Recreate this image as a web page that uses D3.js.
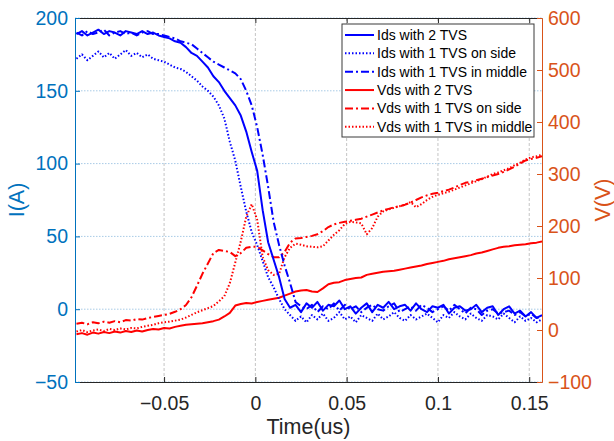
<!DOCTYPE html>
<html>
<head>
<meta charset="utf-8">
<script src="https://cdn.jsdelivr.net/npm/d3@7/dist/d3.min.js"></script>
<style>
body { margin: 0; background: #fff; }
svg { font-family: "Liberation Sans", Arial, Helvetica, sans-serif; }
</style>
</head>
<body>
<div id="chart"></div>
<script>
// sample times (us)
var time = [
	-0.098,-0.095,-0.092,-0.089,-0.086,-0.083,-0.080,-0.077,-0.074,-0.071,
	-0.068,-0.065,-0.062,-0.059,-0.056,-0.053,-0.050,-0.047,-0.044,-0.041,
	-0.038,-0.035,-0.032,-0.029,-0.026,-0.023,-0.020,-0.017,-0.014,-0.011,
	-0.008,-0.005,-0.002,0.001,0.004,0.007,0.010,0.013,0.016,0.019,
	0.022,0.025,0.028,0.031,0.034,0.037,0.040,0.043,0.046,0.049,
	0.052,0.055,0.058,0.061,0.064,0.067,0.070,0.073,0.076,0.079,
	0.082,0.085,0.088,0.091,0.094,0.097,0.100,0.103,0.106,0.109,
	0.112,0.115,0.118,0.121,0.124,0.127,0.130,0.133,0.136,0.139,
	0.142,0.145,0.148,0.151,0.154,0.157];

// current (A)
var idsTwo = [
	189,191,188,190,192,189,191,190,188,191,190,189,191,
	189,190,188,187,186,184,183,180,
	176,174,170,166,160,156,150,145,140,133,122,108,95,68,46,34,22,7,1,3,
	-2,4,1,5,-1,3,2,6,0,2,-3,1,4,-2,3,1,5,0,2,3,-1,4,0,-2,2,1,3,-3,1,2,
	-1,0,3,-2,1,2,-4,0,2,-3,-1,-5,-2,-6,-4];
var idsSide = [
	172,175,171,174,177,173,176,172,175,178,174,176,173,
	175,172,171,170,168,166,165,163,160,157,153,150,146,140,131,115,102,84,67,53,
	44,33,22,15,7,0,-4,-8,
	-5,-9,-4,-7,-3,-8,-6,-2,-7,-5,-9,-4,-6,-8,-3,-7,-5,-2,-6,-8,-4,-7,-5,-3,-6,
	-9,-4,-6,-2,-5,-7,-3,-6,-8,-4,-5,-7,-3,-6,-9,-5,-8,-6,-9,-7];
var idsMid = [
	190,188,191,189,190,192,188,190,191,189,190,188,190,
	191,189,189,188,187,186,184,183,182,179,176,173,170,168,166,164,162,158,150,140,
	125,106,84,60,44,30,18,5,2,
	0,3,-2,2,0,4,-1,3,0,2,-2,1,3,0,-1,2,4,-2,0,2,-1,3,1,-2,0,2,-1,3,0,-3,
	1,0,-4,-1,0,-3,-2,-1,-4,-2,-5,-3,-6,-5];

// voltage (V)
var vdsTwo = [
	-8,-6,-9,-5,-7,-4,-6,-3,-5,-2,-4,-1,-3,
	0,2,1,4,3,6,8,10,11,12,13,15,17,20,26,33,47,50,
	52,51,54,56,58,60,62,66,70,74,76,77,74,73,80,88,91,92,96,98,100,101,106,108,110,112,113,114,116,
	118,120,122,124,127,129,131,133,136,138,140,142,144,147,149,152,155,158,160,161,163,164,165,167,168,170];
var vdsSide = [
	12,14,11,15,13,16,14,17,15,19,18,21,20,
	23,25,27,29,31,35,40,48,63,85,108,128,148,154,152,150,142,148,158,160,160,153,146,140,140,150,168,176,
	177,179,181,184,190,198,203,206,208,210,212,214,218,222,226,230,233,236,238,241,245,250,255,259,262,
	264,267,270,274,279,283,285,288,291,294,297,300,304,309,314,320,326,329,331,334];
var vdsMid = [
	-3,0,-4,-1,1,-2,2,0,3,1,4,3,6,
	8,10,13,15,16,18,20,24,29,34,38,42,46,55,65,90,130,170,218,242,212,140,115,106,108,140,158,166,
	164,161,160,159,161,172,183,192,204,208,207,205,184,196,218,228,232,235,238,241,246,236,242,250,256,
	260,263,266,270,274,278,282,286,290,295,300,303,307,311,317,322,328,332,334,337];

var xTicks = [-0.05, 0, 0.05, 0.1, 0.15];
var iTicks = [-50, 0, 50, 100, 150, 200];
var vTicks = [-100, 0, 100, 200, 300, 400, 500, 600];

var seriesNames = ["Ids with 2 TVS", "Ids with 1 TVS on side", "Ids with 1 TVS in middle",
	"Vds with 2 TVS", "Vds with 1 TVS on side", "Vds with 1 TVS in middle"];

var blueAxis = "#0072BD", orangeAxis = "#D95319", dark = "#262626";
var dotted = "1.5,2", dashDot = "8,3,2,3";

var series = [
	{name: seriesNames[0], values: idsTwo, side: "I", color: "#0000ff", dash: null},
	{name: seriesNames[1], values: idsSide, side: "I", color: "#0000ff", dash: dotted},
	{name: seriesNames[2], values: idsMid, side: "I", color: "#0000ff", dash: dashDot},
	{name: seriesNames[3], values: vdsTwo, side: "V", color: "#ff0000", dash: null},
	{name: seriesNames[4], values: vdsSide, side: "V", color: "#ff0000", dash: dashDot},
	{name: seriesNames[5], values: vdsMid, side: "V", color: "#ff0000", dash: dotted}
];

var margin = {top: 18, right: 72, bottom: 59, left: 75},
	width = 614 - margin.left - margin.right,
	height = 441 - margin.top - margin.bottom;

var xScale = d3.scaleLinear().domain([-0.0988, 0.157]).range([0, width]),
	yI = d3.scaleLinear().domain([-50, 200]).range([height, 0]),
	yV = d3.scaleLinear().domain([-100, 600]).range([height, 0]);

var svg = d3.select("#chart").append("svg")
	.attr("width", 614)
	.attr("height", 441)
	.append("g")
	.attr("transform", "translate(" + margin.left + "," + margin.top + ")");

// grid
svg.append("g").selectAll("line")
	.data(xTicks).enter().append("line")
	.attr("x1", function(d) { return xScale(d); })
	.attr("x2", function(d) { return xScale(d); })
	.attr("y1", 0).attr("y2", height)
	.attr("stroke", "#c4c4c4")
	.attr("stroke-width", 1)
	.attr("stroke-dasharray", "3,2");

svg.append("g").selectAll("line")
	.data(iTicks).enter().append("line")
	.attr("x1", 0).attr("x2", width)
	.attr("y1", function(d) { return yI(d); })
	.attr("y2", function(d) { return yI(d); })
	.attr("stroke", "#a8cbe6")
	.attr("stroke-width", 1)
	.attr("stroke-dasharray", "1.5,1.5");

svg.append("clipPath").attr("id", "clip")
	.append("rect").attr("width", width).attr("height", height);

var plot = svg.append("g").attr("clip-path", "url(#clip)");

// red first, blue on top
series.slice(3).concat(series.slice(0, 3)).forEach(function(s) {
	var yS = s.side == "I" ? yI : yV;
	var line = d3.line()
		.x(function(d, i) { return xScale(time[i]); })
		.y(function(d) { return yS(d); });
	plot.append("path")
		.datum(s.values)
		.attr("fill", "none")
		.attr("stroke", s.color)
		.attr("stroke-width", 2)
		.attr("stroke-linejoin", "round")
		.attr("stroke-dasharray", s.dash)
		.attr("d", line);
});

// axes
var fmtX = function(d) { return d == 0 ? "0" : d3.format("")(d); };

var xAxis = svg.append("g")
	.attr("transform", "translate(0," + height + ")")
	.call(d3.axisBottom(xScale).tickValues(xTicks).tickFormat(fmtX)
		.tickSizeInner(-5).tickSizeOuter(0).tickPadding(14));
xAxis.select(".domain").attr("stroke", dark);
xAxis.selectAll(".tick line").attr("stroke", dark);
xAxis.selectAll("text").attr("fill", dark).style("font-size", "19.5px").attr("dy", "0.71em");

var topAxis = svg.append("g")
	.call(d3.axisTop(xScale).tickValues(xTicks).tickFormat("")
		.tickSizeInner(-5).tickSizeOuter(0));
topAxis.select(".domain").attr("stroke", dark);
topAxis.selectAll(".tick line").attr("stroke", dark);

var leftAxis = svg.append("g")
	.call(d3.axisLeft(yI).tickValues(iTicks)
		.tickSizeInner(-5).tickSizeOuter(0).tickPadding(7));
leftAxis.select(".domain").attr("stroke", blueAxis);
leftAxis.selectAll(".tick line").attr("stroke", blueAxis);
leftAxis.selectAll("text").attr("fill", blueAxis).style("font-size", "19.5px");

var rightAxis = svg.append("g")
	.attr("transform", "translate(" + width + ",0)")
	.call(d3.axisRight(yV).tickValues(vTicks)
		.tickSizeInner(-5).tickSizeOuter(0).tickPadding(6));
rightAxis.select(".domain").attr("stroke", orangeAxis);
rightAxis.selectAll(".tick line").attr("stroke", orangeAxis);
rightAxis.selectAll("text").attr("fill", orangeAxis).style("font-size", "19.5px");

// axis labels
svg.append("text")
	.attr("text-anchor", "middle")
	.attr("x", width / 2)
	.attr("y", height + 52)
	.attr("fill", dark)
	.style("font-size", "21.5px")
	.text("Time(us)");

svg.append("text")
	.attr("text-anchor", "middle")
	.attr("transform", "translate(" + (24 - margin.left) + "," + (height / 2) + ") rotate(-90)")
	.attr("fill", blueAxis)
	.style("font-size", "21.5px")
	.text("I(A)");

svg.append("text")
	.attr("text-anchor", "middle")
	.attr("transform", "translate(" + (610 - margin.left) + "," + (height / 2) + ") rotate(-90)")
	.attr("fill", orangeAxis)
	.style("font-size", "21.5px")
	.text("V(V)");

// legend
var legend = svg.append("g")
	.attr("transform", "translate(" + (342 - margin.left) + "," + (24 - margin.top) + ")");

legend.append("rect")
	.attr("width", 192).attr("height", 113)
	.attr("fill", "#fff")
	.attr("stroke", "#3a3a3a")
	.attr("stroke-width", 1);

var rows = legend.selectAll("g.row")
	.data(series).enter().append("g")
	.attr("class", "row")
	.attr("transform", function(d, i) { return "translate(0," + (11 + i * 18.35) + ")"; });

rows.append("line")
	.attr("x1", 3).attr("x2", 32)
	.attr("stroke", function(d) { return d.color; })
	.attr("stroke-width", 2)
	.attr("stroke-dasharray", function(d) { return d.dash; });

rows.append("text")
	.attr("x", 35)
	.attr("dy", "0.35em")
	.attr("fill", "#000")
	.style("font-size", "14px")
	.text(function(d) { return d.name; });
</script>
</body>
</html>
